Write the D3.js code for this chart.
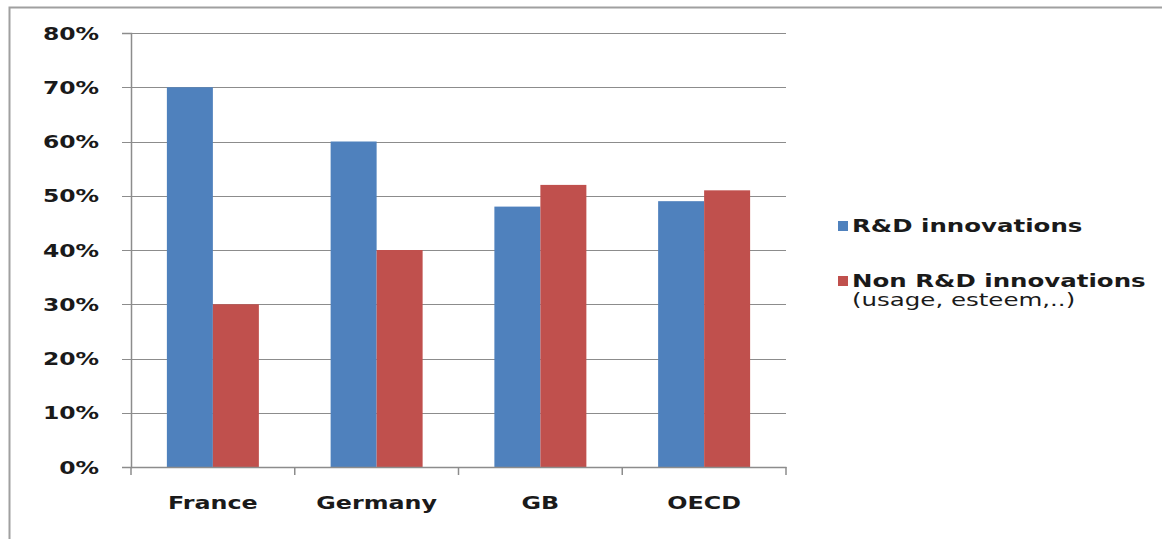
<!DOCTYPE html>
<html>
<head>
<meta charset="utf-8">
<script src="https://cdn.jsdelivr.net/npm/d3@7"></script>
<style>
  body { margin: 0; background: #fff; }
  svg text { font-family: "DejaVu Sans", Verdana, sans-serif; font-weight: bold; fill: #1a1a1a; }
</style>
</head>
<body>
<div id="chart"></div>
<script>
// values
var countries = ["France", "Germany", "GB", "OECD"];
var rdValues = [0.70, 0.60, 0.48, 0.49];
var nonRdValues = [0.30, 0.40, 0.52, 0.51];
var seriesNames = ["R&D innovations", "Non R&D innovations"];
var seriesNote = "(usage, esteem,..)";
var yTicks = [0, 0.1, 0.2, 0.3, 0.4, 0.5, 0.6, 0.7, 0.8];

var width = 1162, height = 539;
var stretch = 1.4; // the picture's text is wider than it is tall

var svg = d3.select("#chart").append("svg")
  .attr("width", width)
  .attr("height", height);

// outer frame (only top and left edges show)
svg.append("path")
  .attr("d", "M9.5," + height + "V7.5H" + width)
  .attr("fill", "none")
  .attr("stroke", "#a0a0a0")
  .attr("stroke-width", 2);

var x0 = 131, x1 = 786, yTop = 33, yBot = 467;

var x = d3.scaleBand().domain(countries).range([x0, x1]).paddingInner(0).paddingOuter(0);
var y = d3.scaleLinear().domain([0, 0.8]).range([yBot, yTop]);
var xs = d3.scaleBand().domain([0, 1]).range([0, x.bandwidth()]).paddingOuter(0.78).paddingInner(0);

// gridlines
svg.append("g").selectAll("line").data(yTicks).enter().append("line")
  .attr("x1", x0 - 9).attr("x2", x1)
  .attr("y1", function(d) { return Math.round(y(d)) + 0.5; })
  .attr("y2", function(d) { return Math.round(y(d)) + 0.5; })
  .attr("stroke", "#8c8c8c")
  .attr("stroke-width", 1.2);

// bars
var colors = ["#4f81bd", "#c0504d"];
var rows = countries.map(function(c, i) { return [rdValues[i], nonRdValues[i]]; });

var groups = svg.append("g").selectAll("g").data(rows).enter().append("g")
  .attr("transform", function(d, i) { return "translate(" + x(countries[i]) + ",0)"; });

groups.selectAll("rect").data(function(d) { return d; }).enter().append("rect")
  .attr("x", function(d, j) { return xs(j); })
  .attr("width", xs.bandwidth())
  .attr("y", function(d) { return y(d); })
  .attr("height", function(d) { return y(0) - y(d); })
  .attr("fill", function(d, j) { return colors[j]; });

// y axis
var yAxis = svg.append("g")
  .attr("transform", "translate(" + x0 + ",0)")
  .call(d3.axisLeft(y).tickValues(yTicks).tickFormat(d3.format(".0%")).tickSize(9).tickPadding(0));
yAxis.select(".domain").attr("stroke", "#8c8c8c").attr("stroke-width", 1.5);
yAxis.selectAll(".tick line").remove();
yAxis.selectAll(".tick text")
  .attr("x", null).attr("dy", null)
  .attr("font-size", 17)
  .attr("text-anchor", "end")
  .attr("transform", "translate(-32,6) scale(1.38,1)");

// x axis
var xAxis = svg.append("g")
  .attr("transform", "translate(0," + yBot + ")")
  .call(d3.axisBottom(x).tickSize(0).tickPadding(0));
xAxis.select(".domain").attr("stroke", "#8c8c8c").attr("stroke-width", 1.5);
xAxis.selectAll(".tick text")
  .attr("y", null).attr("dy", null)
  .attr("font-size", 17)
  .attr("transform", "translate(0,42) scale(" + stretch + ",1)");

// category separators below the axis
var bounds = [x0].concat(countries.map(function(c) { return x(c) + x.bandwidth(); }));
svg.append("g").selectAll("line").data(bounds).enter().append("line")
  .attr("x1", function(d) { return d; }).attr("x2", function(d) { return d; })
  .attr("y1", yBot).attr("y2", yBot + 8)
  .attr("stroke", "#8c8c8c").attr("stroke-width", 1.5);

// legend
var legend = svg.append("g");
var legendY = [226, 281];
legend.selectAll("rect").data(seriesNames).enter().append("rect")
  .attr("x", 838).attr("y", function(d, i) { return legendY[i] - 5; })
  .attr("width", 10).attr("height", 10)
  .attr("fill", function(d, i) { return colors[i]; });
legend.selectAll("text.name").data(seriesNames).enter().append("text")
  .attr("class", "name")
  .attr("font-size", 17.5)
  .attr("transform", function(d, i) { return "translate(852," + (legendY[i] + 6) + ") scale(" + stretch + ",1)"; })
  .text(function(d) { return d; });
legend.append("text")
  .attr("font-size", 17.5)
  .style("font-weight", "normal")
  .attr("transform", "translate(852," + (legendY[1] + 25) + ") scale(1.4,1)")
  .text(seriesNote);
</script>
</body>
</html>
